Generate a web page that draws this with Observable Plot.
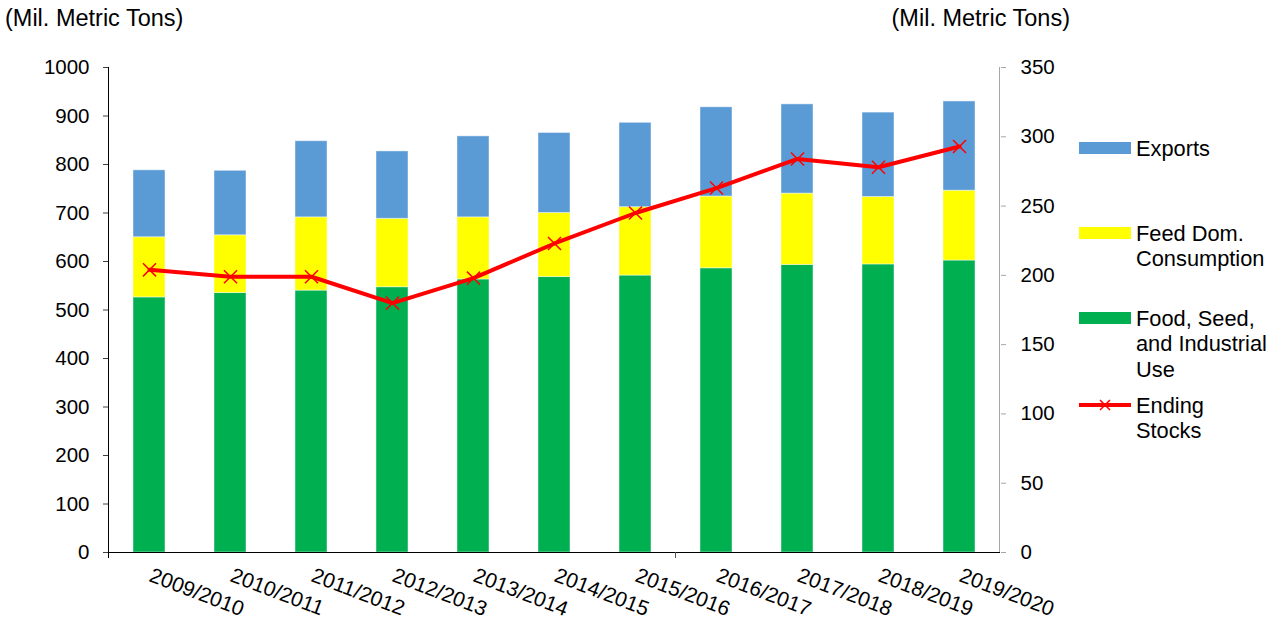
<!DOCTYPE html>
<html>
<head>
<meta charset="utf-8">
<script src="https://cdn.jsdelivr.net/npm/d3@7"></script>
<script src="https://cdn.jsdelivr.net/npm/@observablehq/plot@0.6"></script>
<style>
  html, body { margin: 0; padding: 0; background: white; }
  #chart { width: 1270px; height: 618px; }
</style>
</head>
<body>
<div id="chart"></div>
<script>
const years = ["2009/2010","2010/2011","2011/2012","2012/2013","2013/2014","2014/2015","2015/2016","2016/2017","2017/2018","2018/2019","2019/2020"];
const foodSeedIndustrial = [526, 535, 540, 547, 563, 568, 571, 586, 593, 594, 602];
const feedDomConsumption = [124, 119, 151, 141, 128, 132, 141, 148, 147, 139, 144];
const exportsVals = [138, 133, 157, 139, 167, 165, 174, 184, 184, 174, 184];
const endingStocks = [204, 199, 199, 180, 198, 223, 245, 263, 284, 278, 293];
const leftTicks = [0,100,200,300,400,500,600,700,800,900,1000];
const rightTicks = [0,50,100,150,200,250,300,350];
const seriesNames = ["Food, Seed, and Industrial Use", "Feed Dom. Consumption", "Exports"];
const seriesColors = ["#00B050", "#FFFF00", "#5B9BD5"];
const unitLabel = "(Mil. Metric Tons)";

const FONT = "'Liberation Sans', Arial, sans-serif";
const k = 1000 / 350;

const rows = [];
years.forEach((y, i) => {
  rows.push({year: y, series: seriesNames[0], value: foodSeedIndustrial[i]});
  rows.push({year: y, series: seriesNames[1], value: feedDomConsumption[i]});
  rows.push({year: y, series: seriesNames[2], value: exportsVals[i]});
});
const stockRows = years.map((y, i) => ({year: y, v: endingStocks[i] * k}));

const plot = Plot.plot({
  width: 1270, height: 618,
  marginLeft: 108, marginRight: 270, marginTop: 67, marginBottom: 66,
  style: {fontFamily: FONT, fontSize: "20.5px", color: "#000", background: "white", overflow: "visible"},
  x: {domain: years, paddingInner: 0.6, paddingOuter: 0.3},
  y: {domain: [0, 1000]},
  color: {domain: seriesNames, range: seriesColors},
  marks: [
    Plot.barY(rows, {x: "year", y: "value", fill: "series", stroke: "white", strokeOpacity: 0.45, strokeWidth: 1}),
    Plot.axisY(leftTicks, {anchor: "left", tickSize: 5, tickPadding: 14, stroke: "#404040", fill: "#000", label: null, tickFormat: d => String(d)}),
    Plot.axisY(rightTicks.map(v => v * k), {anchor: "right", tickSize: 5, tickPadding: 15, stroke: "#A6A6A6", fill: "#000", label: null, tickFormat: d => String(Math.round(d / k))}),
    Plot.axisX({anchor: "bottom", tickSize: 0, tickPadding: 22, tickRotate: 21, label: null, fill: "#000", dx: 1, fontSize: 21}),
    Plot.ruleY([0], {stroke: "#000", strokeWidth: 1}),
    Plot.line(stockRows, {x: "year", y: "v", stroke: "#FF0000", strokeWidth: 4}),
    Plot.dot(stockRows, {x: "year", y: "v", symbol: "times", r: 6, stroke: "#FF0000", strokeWidth: 1.5})
  ]
});
document.getElementById("chart").appendChild(plot);

const svg = d3.select(plot);
const xs = plot.scale("x");
const ys = plot.scale("y");
const yTop = ys.apply(1000), yBot = ys.apply(0);
const b0 = xs.apply(years[0]), b1 = xs.apply(years[1]);
const step = b1 - b0;
const bw = xs.bandwidth;
const leftX = b0 - (step - bw) / 2;
const rightX = xs.apply(years[years.length - 1]) + bw + (step - bw) / 2;

const g = svg.append("g").attr("text-anchor", "start");
// axis lines
g.append("line").attr("x1", leftX).attr("x2", leftX).attr("y1", yTop).attr("y2", yBot).attr("stroke", "#000");
g.append("line").attr("x1", rightX).attr("x2", rightX).attr("y1", yTop).attr("y2", yBot).attr("stroke", "#A6A6A6");
// category axis ticks
[0, 7].forEach(i => {
  const tx = xs.apply(years[i]) - (step - bw) / 2;
  g.append("line").attr("x1", tx).attr("x2", tx).attr("y1", yBot).attr("y2", yBot + 6).attr("stroke", i === 0 ? "#000" : "#555");
});
// unit titles
g.append("text").attr("x", 5).attr("y", 26).attr("text-anchor", "start").attr("font-family", FONT).attr("font-size", 23.5).attr("fill", "#000").text(unitLabel);
g.append("text").attr("x", 1070).attr("y", 26).attr("text-anchor", "end").attr("font-family", FONT).attr("font-size", 23.5).attr("fill", "#000").text(unitLabel);

// legend
const legend = [
  {type: "bar", color: seriesColors[2], cy: 148, lines: ["Exports"]},
  {type: "bar", color: seriesColors[1], cy: 233, lines: ["Feed Dom.", "Consumption"]},
  {type: "bar", color: seriesColors[0], cy: 318, lines: ["Food, Seed,", "and Industrial", "Use"]},
  {type: "line", color: "#FF0000", cy: 405, lines: ["Ending", "Stocks"]}
];
legend.forEach(item => {
  if (item.type === "bar") {
    g.append("rect").attr("x", 1079).attr("y", item.cy - 6).attr("width", 52).attr("height", 12).attr("fill", item.color);
  } else {
    g.append("line").attr("x1", 1079).attr("x2", 1131).attr("y1", item.cy).attr("y2", item.cy).attr("stroke", item.color).attr("stroke-width", 4);
    g.append("path").attr("d", `M${1105-5},${item.cy-5}L${1105+5},${item.cy+5}M${1105-5},${item.cy+5}L${1105+5},${item.cy-5}`).attr("stroke", item.color).attr("stroke-width", 1.5);
  }
  item.lines.forEach((t, j) => {
    g.append("text").attr("x", 1136).attr("y", item.cy + j * 25.5).attr("dy", "0.35em").attr("text-anchor", "start")
      .attr("font-family", FONT).attr("font-size", 21.8).attr("fill", "#000").text(t);
  });
});
</script>
</body>
</html>
